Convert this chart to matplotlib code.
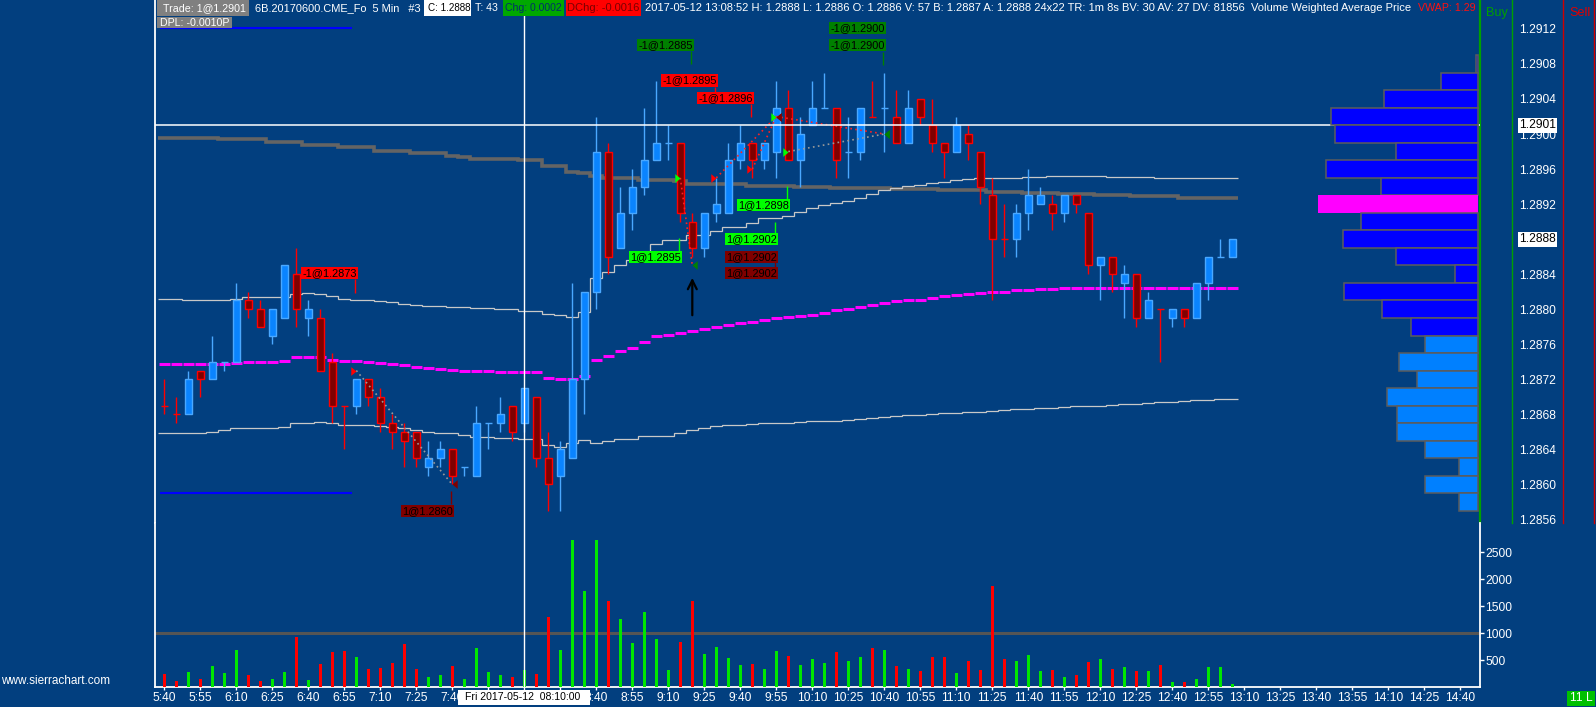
import matplotlib

matplotlib.use("Agg")
import matplotlib.pyplot as plt
from matplotlib import font_manager
from matplotlib.lines import Line2D
from matplotlib.patches import Rectangle
import numpy as np

W, H, DPI = 1596, 707, 100
BG = "#023f7f"

# 5-minute bars, bar 0 = 05:40 ... bar 89 = 13:05
opens = [1.2869, 1.2868, 1.2868, 1.2873, 1.2872, 1.2874, 1.2874, 1.2881, 1.2880, 1.2877,
         1.2879, 1.2884, 1.2879, 1.2879, 1.2874, 1.2869, 1.2869, 1.2872, 1.2870, 1.2867,
         1.2866, 1.2866, 1.2862, 1.2863, 1.2864, 1.2862, 1.2861, 1.2867, 1.2867, 1.2869,
         1.2867, 1.2870, 1.2863, 1.2861, 1.2863, 1.2872, 1.2882, 1.2898, 1.2887, 1.2891,
         1.2894, 1.2897, 1.2899, 1.2899, 1.2890, 1.2887, 1.2891, 1.2891, 1.2897, 1.2899,
         1.2897, 1.2898, 1.2903, 1.2897, 1.2901, 1.2903, 1.2903, 1.2898, 1.2898, 1.2902,
         1.2903, 1.2902, 1.2899, 1.2904, 1.2901, 1.2899, 1.2898, 1.2900, 1.2898, 1.2893,
         1.2888, 1.2888, 1.2891, 1.2892, 1.2892, 1.2891, 1.2893, 1.2891, 1.2885, 1.2886,
         1.2883, 1.2884, 1.2879, 1.2880, 1.2879, 1.2880, 1.2879, 1.2883, 1.2886, 1.2886]
highs = [1.2872, 1.2870, 1.2873, 1.2873, 1.2877, 1.2874, 1.2883, 1.2882, 1.2881, 1.2880,
         1.2885, 1.2887, 1.2881, 1.2880, 1.2875, 1.2869, 1.2872, 1.2872, 1.2871, 1.2868,
         1.2867, 1.2866, 1.2865, 1.2865, 1.2864, 1.2862, 1.2869, 1.2867, 1.2870, 1.2869,
         1.2871, 1.2870, 1.2866, 1.2865, 1.2883, 1.2882, 1.2902, 1.2899, 1.2894, 1.2896,
         1.2903, 1.2906, 1.2901, 1.2899, 1.2891, 1.2891, 1.2895, 1.2899, 1.2901, 1.2899,
         1.2899, 1.2906, 1.2905, 1.2902, 1.2906, 1.2907, 1.2903, 1.2902, 1.2903, 1.2906,
         1.2907, 1.2905, 1.2905, 1.2904, 1.2904, 1.2899, 1.2902, 1.2901, 1.2898, 1.2895,
         1.2892, 1.2892, 1.2896, 1.2894, 1.2893, 1.2893, 1.2893, 1.2891, 1.2886, 1.2886,
         1.2885, 1.2884, 1.2882, 1.2880, 1.2880, 1.2880, 1.2883, 1.2886, 1.2888, 1.2888]
lows = [1.2868, 1.2867, 1.2868, 1.2870, 1.2872, 1.2873, 1.2874, 1.2879, 1.2878, 1.2876,
        1.2879, 1.2878, 1.2877, 1.2873, 1.2867, 1.2864, 1.2868, 1.2869, 1.2866, 1.2864,
        1.2862, 1.2862, 1.2861, 1.2862, 1.2860, 1.2861, 1.2861, 1.2864, 1.2866, 1.2865,
        1.2866, 1.2862, 1.2857, 1.2857, 1.2863, 1.2868, 1.2880, 1.2884, 1.2887, 1.2889,
        1.2893, 1.2897, 1.2897, 1.2890, 1.2886, 1.2886, 1.2890, 1.2891, 1.2896, 1.2895,
        1.2896, 1.2895, 1.2897, 1.2894, 1.2901, 1.2903, 1.2895, 1.2895, 1.2897, 1.2902,
        1.2898, 1.2899, 1.2899, 1.2901, 1.2898, 1.2895, 1.2898, 1.2897, 1.2892, 1.2881,
        1.2886, 1.2886, 1.2889, 1.2892, 1.2889, 1.2890, 1.2891, 1.2884, 1.2881, 1.2882,
        1.2879, 1.2878, 1.2879, 1.2874, 1.2878, 1.2878, 1.2879, 1.2881, 1.2886, 1.2886]
closes = [1.2869, 1.2868, 1.2872, 1.2872, 1.2874, 1.2874, 1.2881, 1.2880, 1.2878, 1.2880,
          1.2885, 1.2880, 1.2880, 1.2873, 1.2869, 1.2869, 1.2872, 1.2870, 1.2867, 1.2866,
          1.2865, 1.2863, 1.2863, 1.2864, 1.2861, 1.2862, 1.2867, 1.2867, 1.2868, 1.2866,
          1.2871, 1.2863, 1.2860, 1.2864, 1.2872, 1.2882, 1.2898, 1.2886, 1.2891, 1.2894,
          1.2897, 1.2899, 1.2899, 1.2891, 1.2887, 1.2891, 1.2892, 1.2897, 1.2899, 1.2897,
          1.2899, 1.2903, 1.2897, 1.2900, 1.2903, 1.2903, 1.2897, 1.2898, 1.2903, 1.2902,
          1.2903, 1.2899, 1.2903, 1.2902, 1.2899, 1.2898, 1.2901, 1.2899, 1.2894, 1.2888,
          1.2888, 1.2891, 1.2893, 1.2893, 1.2891, 1.2893, 1.2892, 1.2885, 1.2886, 1.2884,
          1.2884, 1.2879, 1.2881, 1.2880, 1.2880, 1.2879, 1.2883, 1.2886, 1.2886, 1.2888]
bar_up = [0, 0, 1, 0, 1, 1, 1, 0, 0, 1, 1, 0, 1, 0, 0, 0, 1, 0, 0, 0,
          0, 0, 1, 1, 0, 1, 1, 1, 1, 0, 1, 0, 0, 1, 1, 1, 1, 0, 1, 1,
          1, 1, 1, 0, 0, 1, 1, 1, 1, 0, 1, 1, 0, 1, 1, 1, 0, 1, 1, 0,
          1, 0, 1, 0, 0, 0, 1, 0, 0, 0, 0, 1, 1, 1, 0, 1, 0, 0, 1, 0,
          1, 0, 1, 0, 1, 0, 1, 1, 1, 1]
volume = [247, 123, 290, 160, 401, 272, 698, 235, 123, 160,
          290, 938, 142, 438, 660, 679, 568, 346, 364, 457,
          809, 346, 198, 235, 401, 160, 735, 290, 235, 198,
          327, 253, 1309, 698, 2735, 1790, 2735, 1605, 1272, 827,
          1401, 901, 327, 846, 1605, 623, 753, 549, 420, 438,
          346, 679, 586, 420, 531, 457, 660, 494, 568, 735,
          698, 401, 346, 309, 568, 568, 272, 494, 327, 1883,
          531, 494, 605, 309, 327, 198, 235, 475, 531, 346,
          383, 309, 309, 420, 105, 105, 160, 383, 383, 68]

# study lines, one value per bar
vwap = ([1.28737] * 6 + [1.28739] + [1.28740] * 3 + [1.28741] + [1.28745] * 3 + [1.28742]
        + [1.28741] * 2 + [1.28740, 1.28739, 1.28738, 1.28736, 1.28734, 1.28733, 1.28732,
                           1.28731, 1.28730] + [1.28729] * 2 + [1.28728] * 4
        + [1.28721, 1.28720, 1.28720, 1.28724, 1.28742, 1.28747, 1.28752, 1.28756, 1.28763,
           1.28769, 1.28771, 1.28773, 1.28775, 1.28777, 1.28780, 1.28782, 1.28784, 1.28786,
           1.28788, 1.28790, 1.28791, 1.28792, 1.28794, 1.28796, 1.28799, 1.28800, 1.28802,
           1.28805, 1.28807, 1.28809, 1.28810, 1.28811, 1.28813, 1.28815, 1.28816, 1.28817,
           1.28818, 1.28820, 1.28820, 1.28822, 1.28822, 1.28823, 1.28823] + [1.28824] * 15)
upper_band = ([1.28812] * 2 + [1.28811] * 2 + [1.28810] * 2 + [1.28812] + [1.28814] * 4
              + [1.28817, 1.28818, 1.28817, 1.28815, 1.28812, 1.28811, 1.28810, 1.28809,
                 1.28808, 1.28806, 1.28805, 1.28804, 1.28804, 1.28803, 1.28803, 1.28801,
                 1.28801, 1.28800, 1.28800, 1.28798, 1.28798, 1.28795, 1.28793, 1.28791,
                 1.28797, 1.28836, 1.28843, 1.28851, 1.28856, 1.28856, 1.28875, 1.28879,
                 1.28879, 1.28885, 1.28885, 1.28889, 1.28894, 1.28894, 1.28899, 1.28904,
                 1.28904, 1.28907, 1.28911, 1.28915, 1.28919, 1.28921, 1.28923, 1.28927,
                 1.28931, 1.28936, 1.28938, 1.28941, 1.28942, 1.28944, 1.28945, 1.28947,
                 1.28949] + [1.28950] * 4 + [1.28951] * 2 + [1.28952] * 5 + [1.28951] * 4
              + [1.28950] * 7)
lower_band = ([1.28659] * 4 + [1.28660, 1.28662, 1.28664] + [1.28665] * 3 + [1.28666]
              + [1.28670] * 2 + [1.28671, 1.28670] + [1.28668] * 3
              + [1.28667, 1.28666, 1.28664, 1.28662, 1.28660, 1.28659, 1.28659, 1.28657,
                 1.28654, 1.28654, 1.28653, 1.28653, 1.28652, 1.28652, 1.28645, 1.28643,
                 1.28647, 1.28651, 1.28647, 1.28650, 1.28652, 1.28652, 1.28655, 1.28655,
                 1.28655, 1.28659, 1.28662, 1.28664, 1.28667, 1.28668, 1.28668, 1.28669,
                 1.28670, 1.28670, 1.28670, 1.28671, 1.28672, 1.28672, 1.28673, 1.28674,
                 1.28675, 1.28676, 1.28677, 1.28678, 1.28679, 1.28679, 1.28680, 1.28681,
                 1.28682, 1.28683, 1.28683, 1.28684, 1.28685, 1.28686, 1.28686, 1.28687,
                 1.28687, 1.28688, 1.28689, 1.28689, 1.28690, 1.28691, 1.28692, 1.28692,
                 1.28693, 1.28694, 1.28694, 1.28695, 1.28696, 1.28696, 1.28697, 1.28697])
prior_line = ([1.28996] * 5 + [1.28994] * 4 + [1.28991] * 3 + [1.28988] * 3 + [1.28985] * 3
              + [1.28981] * 3 + [1.28978] * 3 + [1.28975, 1.28974, 1.28972] + [1.28971] * 3
              + [1.28970] * 2 + [1.28964] * 2 + [1.28957, 1.28955, 1.28952] + [1.28950] * 3
              + [1.28947] * 3 + [1.28946] + [1.28943] * 5 + [1.28941] * 4 + [1.28940] * 3
              + [1.28938] * 5 + [1.28937] * 4 + [1.28936] * 4 + [1.28934] * 3
              + [1.28933] * 3 + [1.28932] * 3 + [1.28930] * 3 + [1.28929] * 4 + [1.28927] * 5)

# volume profile rows (0.0002 each), relative volume
profile_price = [1.2908, 1.2906, 1.2904, 1.2902, 1.2900, 1.2898, 1.2896, 1.2894, 1.2892,
                 1.2890, 1.2888, 1.2886, 1.2884, 1.2882, 1.2880, 1.2878, 1.2876, 1.2874,
                 1.2872, 1.2870, 1.2868, 1.2866, 1.2864, 1.2862, 1.2860, 1.2858]
profile_vol = [7, 112, 283, 443, 430, 247, 458, 293, 483, 352, 407, 247, 70, 403, 290, 202,
               159, 239, 185, 273, 245, 243, 161, 57, 161, 59]
value_area_low = 1.2878
poc = 1.2892

# trades: entry bar, entry price, exit bar, exit price, side
trades = [(16, 1.2873, 24, 1.2860, -1), (43, 1.2895, 44, 1.2885, 1),
          (46, 1.2895, 51, 1.2902, -1), (49, 1.2896, 51, 1.2902, -1),
          (51, 1.2902, 60, 1.2900, 1), (52, 1.2898, 60, 1.2900, 1)]
# fill labels: bar, label centre price, text, colour, connector from, connector to
fill_labels = [(16, 1.28841, "-1@1.2873", "#ff0000", 1.28835, 1.28819),
               (24, 1.28570, "1@1.2860", "#800000", 1.28592, 1.28578),
               (44, 1.29102, "-1@1.2885", "#008000", 1.29095, 1.29080),
               (46, 1.29061, "-1@1.2895", "#ff0000", 1.29054, 1.29048),
               (49, 1.29041, "-1@1.2896", "#ff0000", 1.29034, 1.29020),
               (52, 1.28919, "1@1.2898", "#00ff00", 1.28941, 1.28926),
               (43, 1.28860, "1@1.2895", "#00ff00", 1.28881, 1.28867),
               (51, 1.28880, "1@1.2902", "#00ff00", 1.28900, 1.28887),
               (51, 1.28860, "1@1.2902", "#800000", None, None),
               (51, 1.28841, "1@1.2902", "#800000", 1.28854, 1.28848),
               (60, 1.29121, "-1@1.2900", "#008000", None, None),
               (60, 1.29102, "-1@1.2900", "#008000", 1.29094, 1.29079)]

price_ticks = [1.2856, 1.2860, 1.2864, 1.2868, 1.2872, 1.2876, 1.2880, 1.2884, 1.2888,
               1.2892, 1.2896, 1.2900, 1.2904, 1.2908, 1.2912]
vol_ticks = [500, 1000, 1500, 2000, 2500]
# 7:55, 8:10 and 8:25 sit under the cursor time box
time_labels = ["5:40", "5:55", "6:10", "6:25", "6:40", "6:55", "7:10", "7:25", "7:40", "",
               "", "", "8:40", "8:55", "9:10", "9:25", "9:40", "9:55", "10:10", "10:25",
               "10:40", "10:55", "11:10", "11:25", "11:40", "11:55", "12:10", "12:25", "12:40",
               "12:55", "13:10", "13:25", "13:40", "13:55", "14:10", "14:25", "14:40"]
cursor_bar, cursor_price, last_price = 30, 1.2901, 1.2888

names = {f.name for f in font_manager.fontManager.ttflist}
FONT = "Liberation Sans Narrow" if "Liberation Sans Narrow" in names else "Liberation Sans"
PX = 13 if FONT.endswith("Narrow") else 12
FS = PX * 72 / DPI
plt.rcParams["font.family"] = [FONT, "DejaVu Sans"]


def fx(x):
    return x / W


def fy(y):
    return 1 - y / H


fig = plt.figure(figsize=(W / DPI, H / DPI), dpi=DPI, facecolor=BG)
L, R, MID, BOT = 155, 1480, 523, 687.3
ax = fig.add_axes([fx(L), fy(MID), (R - L) / W, MID / H], facecolor=BG)
vax = fig.add_axes([fx(L), fy(BOT), (R - L) / W, (BOT - MID) / H], facecolor=BG, sharex=ax)

n = len(opens)
x = np.arange(n)
o, h, l, c = map(np.array, (opens, highs, lows, closes))
up = np.array(bar_up, dtype=bool)

# study lines
edges = np.arange(n + 1) - 0.5
ax.stairs(prior_line, edges, baseline=None, color="#646464", lw=2.6, zorder=2)
ax.stairs(upper_band, edges, baseline=None, color="#c8c8c8", lw=0.9, zorder=2)
ax.stairs(lower_band, edges, baseline=None, color="#c8c8c8", lw=0.9, zorder=2)
ax.hlines(vwap, x - 0.48, x + 0.48, color="#ff00ff", lw=2.2, zorder=2)
ax.hlines([1.29121, 1.28590], -0.4, 15.65, color="#0000ff", lw=1.5, zorder=2)

# candles
for mask, fill, edge, wick in ((up, "#0a84ff", "#4aa8ff", "#4aa8ff"),
                               (~up, "#800000", "#ff0000", "#ff0000")):
    ax.vlines(x[mask], l[mask], h[mask], color=wick, lw=1, zorder=3)
    body = mask & (o != c)
    lo = np.minimum(o, c)
    ax.bar(x[body], np.abs(c - o)[body], 0.55, lo[body], color=fill, edgecolor=edge,
           linewidth=1, zorder=4)
    cross = mask & (o == c)
    ax.hlines(o[cross], x[cross] - 0.28, x[cross] + 0.28, color=wick, lw=1, zorder=4)

# trades
tip_r = [(-1.2, 1), (-1.2, -1), (0, 0), (-1.2, 1)]
tip_l = [(1.2, 1), (1.2, -1), (0, 0), (1.2, 1)]
for b0, p0, b1, p1, side in trades:
    pnl = (p1 - p0) * side
    ax.plot([b0, b1], [p0, p1], ls=(0, (1, 2)), lw=1.2,
            color="#9a9a9a" if pnl > 0 else "#ff2020", zorder=5)
    ax.plot(b0, p0, marker=tip_r, ms=7.5, ls="none", mew=0,
            color="#00ff00" if side > 0 else "#ff0000", zorder=6)
    ax.plot(b1, p1, marker=tip_l, ms=7.5, ls="none", mew=0,
            color="#008000" if side > 0 else "#800000", zorder=6)

for b, yc, txt, col, c0, c1 in fill_labels:
    ax.text(b + 0.03, yc, txt, ha="right", va="center", fontsize=FS * 0.92, color="black",
            bbox=dict(boxstyle="square,pad=0.1", fc=col, ec="none"), zorder=7)
    if c0 is not None:
        ax.vlines(b - 0.08, c0, c1, color=col, lw=1, zorder=7)

ax.annotate("", xy=(44, 1.28839), xytext=(44, 1.28790),
            arrowprops=dict(arrowstyle="->", color="black", lw=1.6, mutation_scale=16),
            zorder=7)

# crosshair
ax.axvline(cursor_bar, color="white", lw=1, zorder=6)
vax.axvline(cursor_bar, color="white", lw=1, zorder=6)
ax.axhline(cursor_price, color="white", lw=1.1, zorder=6)

# volume profile
prof = ax.twiny()
prof.set_xlim(3975, -5)
prof_col = ["#ff00ff" if p == poc else ("#0000ff" if p >= value_area_low else "#0080ff")
            for p in profile_price]
prof_edge = ["none" if p == poc else "#5c5c5c" for p in profile_price]
prof.barh(profile_price, profile_vol, height=0.0002, color=prof_col, edgecolor=prof_edge,
          linewidth=1.1, zorder=3)
prof.set_xticks([])
for s in prof.spines.values():
    s.set_visible(False)

ax.set_xlim(-0.775, 109.64)
ax.set_ylim(1.28556, 1.29153)
ax.yaxis.tick_right()
ax.set_yticks(price_ticks)
ax.set_yticklabels([f"{p:.4f}" for p in price_ticks])
ax.tick_params(axis="y", length=0, pad=39 * 0.72, labelcolor="white", labelsize=FS)
ax.tick_params(axis="x", bottom=False, labelbottom=False)
for s in ("top", "bottom"):
    ax.spines[s].set_visible(False)
ax.spines["left"].set_color("white")
ax.spines["left"].set_linewidth(1.3)
ax.spines["right"].set_color("#00a000")
ax.spines["right"].set_linewidth(1.6)

yaxis_tr = ax.get_yaxis_transform()
for val in (cursor_price, last_price):
    ax.text(1 + 39 / (R - L), val, f"{val:.4f}", transform=yaxis_tr, ha="left",
            va="center", fontsize=FS, color="black", clip_on=False, zorder=8,
            bbox=dict(boxstyle="square,pad=0.12", fc="white", ec="none"))

# volume panel
vcol = np.where(up, "#00e600", "#ff0000")
vax.bar(x, volume, 0.25, color=vcol, zorder=3)
vax.axhline(1000, color="#555555", lw=2.2, zorder=1)
vax.set_ylim(0, 3043)
vax.yaxis.tick_right()
vax.set_yticks(vol_ticks)
vax.set_yticklabels([str(v) for v in vol_ticks])
vax.tick_params(axis="y", length=3, width=1, color="white", pad=0.8, labelcolor="white",
                labelsize=FS)
vax.set_xticks(np.arange(len(time_labels)) * 3)
vax.set_xticklabels(time_labels)
vax.tick_params(axis="x", length=2.4, width=1, color="white", pad=1.2, labelcolor="white",
                labelsize=FS)
vax.spines["top"].set_visible(False)
for s in ("left", "right", "bottom"):
    vax.spines[s].set_color("white")
    vax.spines[s].set_linewidth(1.3)


# header and frame decorations in pixel space
def box(x0, x1, y0, y1, color):
    fig.add_artist(Rectangle((fx(x0), fy(y1)), (x1 - x0) / W, (y1 - y0) / H,
                             transform=fig.transFigure, facecolor=color, edgecolor="none",
                             zorder=5))


fits = []


def label(x0, yc, s, color, width=None, size=FS, ha="left"):
    t = fig.text(fx(x0), fy(yc), s, color=color, fontsize=size, ha=ha, va="center",
                 zorder=6)
    if width:
        fits.append((t, width))
    return t


for xx, col in ((1511.7, "#00a000"), (1563.3, "#d00000"), (1594.3, "#d00000")):
    fig.add_artist(Line2D([fx(xx), fx(xx)], [fy(0), fy(MID)], transform=fig.transFigure,
                          color=col, lw=1))

box(156.7, 249, 0, 15.5, "#808080")
label(163.4, 7.8, "Trade: 1@1.2901", "white", 82.6)
label(255, 7.8, "6B.20170600.CME_Fo  5 Min   #3", "white", 168)
box(424.5, 471.4, 0, 15.5, "white")
label(427.7, 7.8, "C: 1.2888", "black", 42.8)
label(474.6, 7.8, "T: 43", "white", 23)
box(502.7, 564.3, 0, 15.5, "#00a800")
label(505, 7.8, "Chg: 0.0002", "#00306a", 58)
box(566, 641, 0, 15.5, "#ff0000")
label(567.4, 7.8, "DChg: -0.0016", "#7a0000", 72.6)
label(644.6, 7.8, "2017-05-12 13:08:52 H: 1.2888 L: 1.2886 O: 1.2886 V: 57 B: 1.2887 "
      "A: 1.2888 24x22 TR: 1m 8s BV: 30 AV: 27 DV: 81856  Volume Weighted Average Price",
      "white", 767)
label(1418, 7.8, "VWAP: 1.29", "#ff1010", 58)
box(157, 232, 16.7, 28.3, "#808080")
label(159.5, 22.5, "DPL: -0.0010P", "white", 70)
label(1486, 13, "Buy", "#00a000", size=FS * 1.05)
label(1569, 13, "Sell", "#e00000", size=FS * 1.05)

box(458.3, 590, 690, 705, "white")
label(465, 697.5, "Fri 2017-05-12  08:10:00", "black", 116)
box(1567, 1595, 691, 705.7, "#00c000")
label(1581, 698.3, "11 L", "white", ha="center")
label(1, 681, "www.sierrachart.com", "white", 110)

fig.canvas.draw()
for t, target in fits:
    w = t.get_window_extent().width
    if w > 0:
        t.set_fontsize(t.get_fontsize() * target / w)

fig.savefig("out.png", dpi=DPI, facecolor=BG)
